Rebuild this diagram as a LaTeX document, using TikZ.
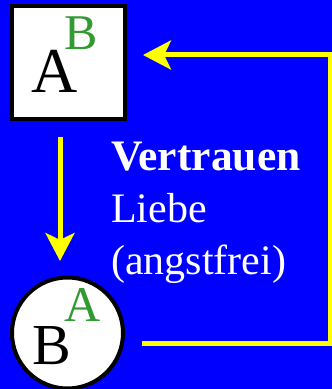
\documentclass[tikz,border=0pt]{standalone}
\usepackage{fontspec}
\setmainfont{Liberation Serif}
\usetikzlibrary{arrows.meta,positioning}
\definecolor{bgblue}{RGB}{0,0,255}
\definecolor{arrowyellow}{RGB}{255,255,0}
\definecolor{letgreen}{RGB}{51,153,51}

\begin{document}
\begin{tikzpicture}[
  x=1pt, y=1pt,
  box/.style={draw=black, line width=4pt, fill=white, inner sep=0pt},
  sqbox/.style={box, rectangle, minimum size=113pt},
  circbox/.style={box, circle, minimum size=111pt},
  bigletter/.style={inner sep=0pt, anchor=base, text=black},
  supletter/.style={inner sep=0pt, anchor=base, text=letgreen, font=\fontsize{50}{50}\selectfont},
  note/.style={inner sep=0pt, align=left, text=white, font=\fontsize{42}{52}\selectfont},
  arr/.style={draw=arrowyellow, line width=5pt, -{Stealth[length=28pt, width=29pt, inset=7pt]}}
]
% background
\fill[bgblue] (0,0) rectangle (332,389);
\useasboundingbox (0,0) rectangle (332,389);

\node[sqbox] (ab) at (68.5,326) {};
\node[circbox] (ba) at (67.5,56) {};

\node[bigletter, font=\fontsize{64}{64}\selectfont] (abA) at (54.5,296) {A};
\node[supletter] (abB) at (81,339) {B};
\node[bigletter, font=\fontsize{58}{58}\selectfont] (baB) at (51.5,24) {B};
\node[supletter] (baA) at (83,67) {A};

\node[note, anchor=north west] (txt) at (111,247) {{\fontsize{43.5}{52}\selectfont\bfseries Vertrauen}\\Liebe\\(angstfrei)};

\coordinate (ret) at (330,334);

\draw[arr, shorten <=15.5pt, shorten >=14.5pt] ([xshift=-8.5pt]ab.south) -- ([xshift=-7.5pt]ba.north);
\draw[arr] ([xshift=17pt,yshift=-10.5pt]ba.east) -| (ret) -- ([xshift=16pt,yshift=8pt]ab.east);
\end{tikzpicture}
\end{document}
